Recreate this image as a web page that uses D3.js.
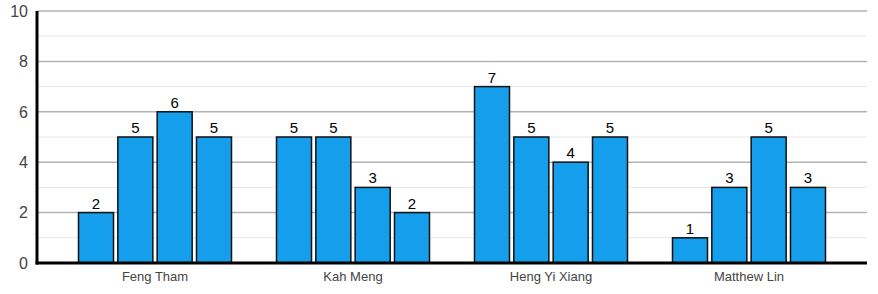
<!DOCTYPE html>
<html>
<head>
<meta charset="utf-8">
<script src="https://cdn.jsdelivr.net/npm/d3@7"></script>
<style>
  body { margin: 0; background: #fff; }
  text { font-family: "Liberation Sans", Arial, sans-serif; }
</style>
</head>
<body>
<script>
// chart data
var people = ["Feng Tham", "Kah Meng", "Heng Yi Xiang", "Matthew Lin"];
var seriesKeys = ["s1", "s2", "s3", "s4"];
var series1 = [2, 5, 7, 1];
var series2 = [5, 5, 5, 3];
var series3 = [6, 3, 4, 5];
var series4 = [5, 2, 5, 3];
var yTicks = [0, 2, 4, 6, 8, 10];
var yMinorTicks = [1, 3, 5, 7, 9];

var width = 878, height = 294;
var plotLeft = 37, plotRight = 867, plotTop = 11, plotBottom = 263;

var svg = d3.select("body").append("svg")
    .attr("width", width)
    .attr("height", height);

var x = d3.scaleBand()
    .domain(people)
    .range([plotLeft, plotRight])
    .paddingInner(0)
    .paddingOuter(0.096);

var xInner = d3.scaleBand()
    .domain(seriesKeys)
    .range([22.5, x.bandwidth() - 22.5])
    .paddingInner(0.11);

var y = d3.scaleLinear()
    .domain([0, 10])
    .range([plotBottom, plotTop]);

// minor gridlines
svg.selectAll(".minor")
    .data(yMinorTicks)
    .enter().append("line")
    .attr("x1", plotLeft).attr("x2", plotRight)
    .attr("y1", function(d) { return y(d); })
    .attr("y2", function(d) { return y(d); })
    .attr("stroke", "#e6e6e6")
    .attr("stroke-width", 1);

// major gridlines
svg.selectAll(".major")
    .data(yTicks.slice(1))
    .enter().append("line")
    .attr("x1", plotLeft).attr("x2", plotRight)
    .attr("y1", function(d) { return y(d); })
    .attr("y2", function(d) { return y(d); })
    .attr("stroke", "#b3b3b3")
    .attr("stroke-width", 1.5);

// y tick labels
svg.selectAll(".ylab")
    .data(yTicks)
    .enter().append("text")
    .attr("x", 28)
    .attr("y", function(d) { return y(d); })
    .attr("dy", "0.36em")
    .attr("text-anchor", "end")
    .attr("font-size", 16)
    .attr("fill", "#444")
    .text(function(d) { return d; });

// build rows for bars
var rows = [];
people.forEach(function(p, i) {
    [series1, series2, series3, series4].forEach(function(s, j) {
        rows.push({ person: p, key: seriesKeys[j], value: s[i] });
    });
});

var bars = svg.selectAll(".bar")
    .data(rows)
    .enter().append("g");

bars.append("rect")
    .attr("x", function(d) { return x(d.person) + xInner(d.key); })
    .attr("y", function(d) { return y(d.value); })
    .attr("width", xInner.bandwidth())
    .attr("height", function(d) { return y(0) - y(d.value); })
    .attr("fill", "#149eeb")
    .attr("stroke", "#111")
    .attr("stroke-width", 1.5);

bars.append("text")
    .attr("x", function(d) { return x(d.person) + xInner(d.key) + xInner.bandwidth() / 2; })
    .attr("y", function(d) { return y(d.value) - 4; })
    .attr("text-anchor", "middle")
    .attr("font-size", 15)
    .attr("fill", "#000")
    .text(function(d) { return d.value; });

// category labels
svg.selectAll(".xlab")
    .data(people)
    .enter().append("text")
    .attr("x", function(d) { return x(d) + x.bandwidth() / 2; })
    .attr("y", 281)
    .attr("text-anchor", "middle")
    .attr("font-size", 13)
    .attr("fill", "#444")
    .text(function(d) { return d; });

// axis lines
svg.append("line")
    .attr("x1", plotLeft - 1.5).attr("x2", plotRight)
    .attr("y1", y(0)).attr("y2", y(0))
    .attr("stroke", "#000")
    .attr("stroke-width", 3);

svg.append("line")
    .attr("x1", plotLeft).attr("x2", plotLeft)
    .attr("y1", plotTop).attr("y2", y(0) + 1.5)
    .attr("stroke", "#000")
    .attr("stroke-width", 3);
</script>
</body>
</html>
